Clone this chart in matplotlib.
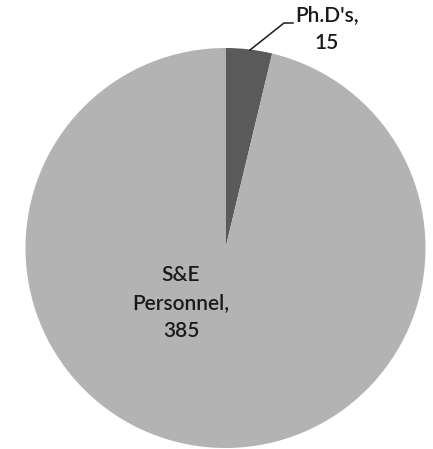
import matplotlib
matplotlib.use("Agg")
import matplotlib.pyplot as plt

categories = ["Ph.D's", "S&E Personnel"]
values = [15, 385]
colors = ["#5a5a5a", "#b3b3b3"]

W, H = 433, 449
fig = plt.figure(figsize=(W / 100, H / 100), dpi=100)
ax = fig.add_axes([0, 0, 1, 1])

cx, cy, r = 225.5, H - 248, 200
wedges, _ = ax.pie(values, colors=colors, startangle=90, counterclock=False,
                   center=(cx, cy), radius=r, frame=True,
                   wedgeprops=dict(linewidth=0))
ax.set_xlim(0, W)
ax.set_ylim(0, H)
ax.set_aspect("equal")
ax.axis("off")

font = dict(family=["Lato", "DejaVu Sans"], fontsize=15, color="#1a1a1a",
            fontweight="semibold")

# Ph.D's label outside with leader line
ax.text(327, H - 29, f"{categories[0]},\n{values[0]}", ha="center", va="center",
        linespacing=1.5, **font)
ax.plot([250, 284, 293], [H - 50, H - 23, H - 23], color="#1a1a1a", lw=1.1)

# S&E label inside
ax.text(181, H - 303, "S&E\nPersonnel,\n" + str(values[1]), ha="center", va="center",
        linespacing=1.5, **font)

fig.savefig("out.png", dpi=100)
